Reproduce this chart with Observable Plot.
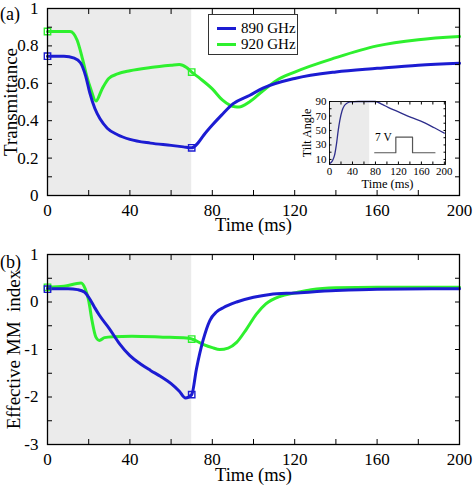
<!DOCTYPE html>
<html><head><meta charset="utf-8">
<script src="https://cdn.jsdelivr.net/npm/d3@7"></script>
<script src="https://cdn.jsdelivr.net/npm/@observablehq/plot@0.6"></script>
<style>
body{margin:0;background:#fff;}
#fig{position:relative;width:474px;height:491px;overflow:hidden;font-family:"Liberation Serif","Times New Roman",serif;color:#000;background:#fff;}
#fig svg, #fig svg text{font-family:"Liberation Serif","Times New Roman",serif !important;font-weight:normal;}
.abs{position:absolute;}
#legend{left:208px;top:14px;width:88px;height:39px;border:1.3px solid #333;background:#fff;font-size:15px;}
.lrow{position:absolute;left:8px;height:16px;display:flex;align-items:center;}
.lsw{width:19px;height:3px;margin-right:5px;}
.plab{font-size:18px;}
</style></head><body><div id="fig"></div>
<script>
// ---------- data ----------
const colors = {g890: "#1c1cd2", g920: "#2ef02e"};
const shadeStart = [0], shadeEnd = [70];

// Panel (a): transmittance
const topT890 = [0,8,13,16,18.5,20.5,23,25.5,29,34,40,50,60,66,70,73,76,80,84.5,90,98,104.6,120,140,160,180,200];
const topV890 = [.745,.745,.735,.71,.64,.55,.465,.41,.36,.325,.30,.28,.268,.26,.255,.28,.325,.377,.43,.49,.535,.574,.626,.661,.68,.697,.707];
const topT920 = [0,11,14.4,17,19,21,23.5,26.5,29.7,34,40,50,60,64,67.5,70,74,80,85,91,93,98,104.6,111,120,140,160,180,200];
const topV920 = [.877,.877,.83,.73,.64,.57,.505,.57,.626,.65,.667,.684,.696,.70,.684,.66,.626,.57,.51,.474,.473,.50,.56,.614,.66,.737,.80,.833,.85];
const markT = [0,70];
const topMark890 = [.745,.255];
const topMark920 = [.877,.66];

// Panel (b): effective MM index
const botT890 = [0,10,14.6,17.9,20,22.8,25.2,30,35,40,45,50,55,60,64,67,70,72.3,75.5,78.8,82,85.3,91.8,100,108,120,140,160,200];
const botV890 = [.28,.28,.26,.21,.10,-.11,-.28,-.56,-.88,-1.13,-1.30,-1.44,-1.57,-1.72,-1.88,-2.02,-1.95,-1.41,-0.81,-0.39,-0.21,-0.12,0.0,0.10,0.16,0.19,0.24,0.27,0.28];
const botT920 = [0,8,16.3,18.3,20,21.6,23.5,25.2,27.7,31.7,41,56,67.5,70,75.5,80,83.6,87.7,91.8,96.6,101.5,106,113,120,128,140,160,200];
const botV920 = [.31,.33,.40,.28,.03,-.39,-.74,-.81,-.75,-.73,-.72,-.74,-.76,-.78,-.89,-.96,-1.0,-.97,-.85,-.57,-.25,-.04,.12,.19,.26,.30,.31,.31];
const botMark890 = [.27,-1.95];
const botMark920 = [.31,-.78];

// Inset: tilt angle
const insetT = [0,4.7,8.7,12.2,15.2,18,22,26,31,36.7,50,65,80,92,102,122,142,163,182.5,200];
const insetV = [4,7.7,15.5,31.6,50,63.8,77.6,84.5,88,89.5,90,90,90,86,82,75,68,61.5,53.7,46.3];
const pulseT = [78.7,115.5,115.5,144.6,144.6,183.7];
const pulseV = [19.2,19.2,40.8,40.8,19.2,19.2];
const pulseLabel = ["7 V"];

// ticks
const xMinor = [0,20,40,60,80,100,120,140,160,180,200];
const xMajor = [0,40,80,120,160,200];
const topYMinor = [0,0.1,0.2,0.3,0.4,0.5,0.6,0.7,0.8,0.9,1];
const topYMajor = [0,0.2,0.4,0.6,0.8,1];
const botYMinor = [-3,-2.5,-2,-1.5,-1,-0.5,0,0.5,1];
const botYMajor = [-3,-2,-1,0,1];
const inXMinor = [0,20,40,60,80,100,120,140,160,180,200];
const inXMajor = [0,40,80,120,160,200];
const inYMinor = [10,20,30,40,50,60,70,80,90];
const inYMajor = [10,30,50,70,90];

const FONT = '"Liberation Serif", "Times New Roman", serif';
const rows = (ts, vs) => ts.map((t, i) => ({t, v: vs[i]}));
const shade = shadeStart.map((s, i) => ({s, e: shadeEnd[i]}));

function axes(xmin, xmaj, ymin, ymaj, o) {
  const fmt = d => String(d);
  const blank = () => "";
  return [
    Plot.axisX({anchor: "bottom", ticks: xmin, tickSize: -o.tick, tickFormat: blank, label: null}),
    Plot.axisX({anchor: "top", ticks: xmin, tickSize: -o.tick, tickFormat: blank, label: null}),
    Plot.axisY({anchor: "left", ticks: ymin, tickSize: -o.tick, tickFormat: blank, label: null}),
    Plot.axisY({anchor: "right", ticks: ymin, tickSize: -o.tick, tickFormat: blank, label: null}),
    Plot.axisX({anchor: "bottom", ticks: xmaj, tickSize: 0, tickPadding: o.padX, tickFormat: fmt, label: null, fontSize: o.fs, fontFamily: FONT}),
    Plot.axisY({anchor: "left", ticks: ymaj, tickSize: 0, tickPadding: o.padY, tickFormat: fmt, label: null, fontSize: o.fs, fontFamily: FONT})
  ];
}

function panel({yDomain, t890, v890, t920, v920, m890, m920, ymin, ymaj, ylabel, ylabelDx, height, mt, mb, xlabelDy}) {
  return Plot.plot({
    width: 474, height,
    marginLeft: 47, marginRight: 15, marginTop: mt, marginBottom: mb,
    x: {domain: [0, 200]},
    y: {domain: yDomain},
    style: {fontFamily: FONT, fontSize: "17px", color: "#000", background: "transparent", overflow: "visible"},
    marks: [
      Plot.rect(shade, {x1: "s", x2: "e", fill: "#ebebeb"}),
      Plot.line(rows(t920, v920), {x: "t", y: "v", stroke: colors.g920, strokeWidth: 3, curve: "monotone-x"}),
      Plot.line(rows(t890, v890), {x: "t", y: "v", stroke: colors.g890, strokeWidth: 3, curve: "monotone-x"}),
      Plot.dot(rows(markT, m920), {x: "t", y: "v", symbol: "square", r: 3.6, stroke: colors.g920, strokeWidth: 1.4, fill: "none"}),
      Plot.dot(rows(markT, m890), {x: "t", y: "v", symbol: "square", r: 3.6, stroke: colors.g890, strokeWidth: 1.4, fill: "none"}),
      ...axes(xMinor, xMajor, ymin, ymaj, {tick: 5, padX: 8, padY: 9, fs: 17}),
      Plot.frame({stroke: "#000", strokeWidth: 1.3}),
      Plot.text(["Time (ms)"], {text: d => d, frameAnchor: "bottom", textAnchor: "middle", lineAnchor: "middle", dy: xlabelDy, fontSize: 18.5, fontFamily: FONT}),
      Plot.text([ylabel], {text: d => d, frameAnchor: "left", textAnchor: "middle", lineAnchor: "middle", dx: ylabelDx, rotate: -90, fontSize: 19, fontFamily: FONT})
    ]
  });
}

const fig = document.getElementById("fig");

const topPanel = panel({yDomain: [0, 1], t890: topT890, v890: topV890, t920: topT920, v920: topV920,
  m890: topMark890, m920: topMark920, ymin: topYMinor, ymaj: topYMajor,
  ylabel: "Transmittance", ylabelDx: -37, height: 240, mt: 8, mb: 45, xlabelDy: 30});
topPanel.style.position = "absolute"; topPanel.style.left = "0px"; topPanel.style.top = "0px";
fig.appendChild(topPanel);

const botPanel = panel({yDomain: [-3, 1], t890: botT890, v890: botV890, t920: botT920, v920: botV920,
  m890: botMark890, m920: botMark920, ymin: botYMinor, ymaj: botYMajor,
  ylabel: "Effective MM  index", ylabelDx: -34, height: 251, mt: 14, mb: 47, xlabelDy: 31});
botPanel.style.position = "absolute"; botPanel.style.left = "0px"; botPanel.style.top = "240px";
fig.appendChild(botPanel);

// inset
const insetPanel = Plot.plot({
  width: 160, height: 97,
  marginLeft: 39, marginRight: 5, marginTop: 8, marginBottom: 26,
  x: {domain: [0, 202]},
  y: {domain: [3, 90]},
  style: {fontFamily: FONT, fontSize: "11px", color: "#000", background: "transparent", overflow: "visible"},
  marks: [
    Plot.frame({fill: "#fff"}),
    Plot.rect(shade, {x1: "s", x2: "e", fill: "#ebebeb"}),
    Plot.line(rows(insetT, insetV), {x: "t", y: "v", stroke: "#2e2e8c", strokeWidth: 1.3, curve: "monotone-x"}),
    Plot.line(rows(pulseT, pulseV), {x: "t", y: "v", stroke: "#555", strokeWidth: 1.2}),
    Plot.text(pulseLabel, {text: d => d, x: () => pulseT[1], y: () => pulseV[2], textAnchor: "end", dx: -4, fontSize: 11.5, fontFamily: FONT}),
    ...axes(inXMinor, inXMajor, inYMinor, inYMajor, {tick: 2.5, padX: 3, padY: 3, fs: 11}),
    Plot.frame({stroke: "#000", strokeWidth: 0.9}),
    Plot.text(["Time (ms)"], {text: d => d, frameAnchor: "bottom", textAnchor: "middle", lineAnchor: "middle", dy: 19, fontSize: 12.5, fontFamily: FONT}),
    Plot.text(["Tilt Angle"], {text: d => d, frameAnchor: "left", textAnchor: "middle", lineAnchor: "middle", dx: -22, rotate: -90, fontSize: 12, fontFamily: FONT})
  ]
});
insetPanel.style.position = "absolute"; insetPanel.style.left = "290px"; insetPanel.style.top = "93px";
fig.appendChild(insetPanel);

// legend
const seriesNames = ["890 GHz", "920 GHz"];
const seriesColors = [colors.g890, colors.g920];
const leg = document.createElement("div");
leg.id = "legend"; leg.className = "abs";
seriesNames.forEach((name, i) => {
  const r = document.createElement("div");
  r.className = "lrow"; r.style.top = (5 + i * 16) + "px";
  const sw = document.createElement("div");
  sw.className = "lsw"; sw.style.background = seriesColors[i];
  const tx = document.createElement("span"); tx.textContent = name;
  r.appendChild(sw); r.appendChild(tx); leg.appendChild(r);
});
fig.appendChild(leg);

// panel letters
[["(a)", 0, 4], ["(b)", 0, 252]].forEach(([t, x, y]) => {
  const d = document.createElement("div");
  d.className = "abs plab"; d.textContent = t;
  d.style.left = x + "px"; d.style.top = y + "px";
  fig.appendChild(d);
});
</script></body></html>
